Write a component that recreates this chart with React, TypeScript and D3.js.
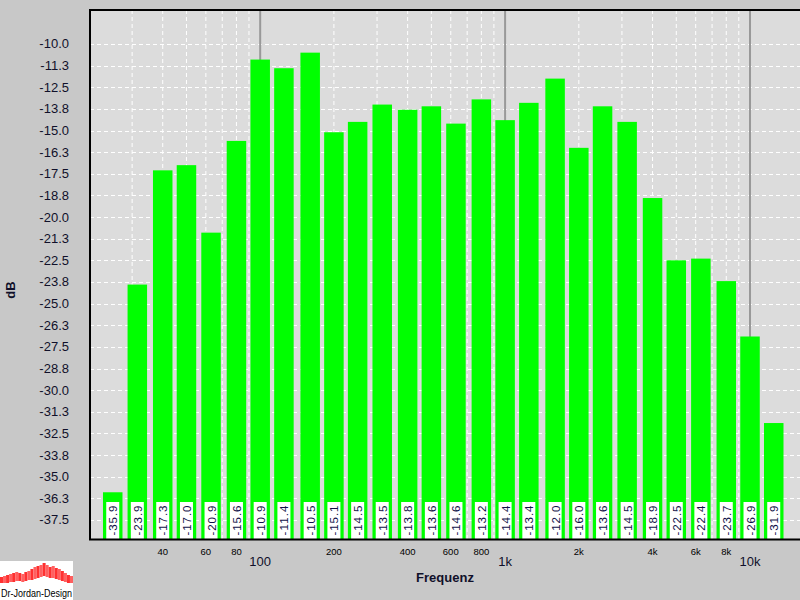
import React from "react";
import * as d3 from "d3";

const freqs = [25, 31.5, 40, 50, 63, 80, 100, 125, 160, 200, 250, 315, 400, 500, 630, 800, 1000, 1250, 1600, 2000, 2500, 3150, 4000, 5000, 6300, 8000, 10000, 12500];
const values = [-35.9, -23.9, -17.3, -17.0, -20.9, -15.6, -10.9, -11.4, -10.5, -15.1, -14.5, -13.5, -13.8, -13.6, -14.6, -13.2, -14.4, -13.4, -12.0, -16.0, -13.6, -14.5, -18.9, -22.5, -22.4, -23.7, -26.9, -31.9];
const yTicks = [-10, -11.25, -12.5, -13.75, -15, -16.25, -17.5, -18.75, -20, -21.25, -22.5, -23.75, -25, -26.25, -27.5, -28.75, -30, -31.25, -32.5, -33.75, -35, -36.25, -37.5];
const majorFreqs = [100, 1000, 10000];
const majorLabels = ["100", "1k", "10k"];
const minorGrid = [30, 40, 50, 60, 70, 80, 90, 200, 300, 400, 500, 600, 700, 800, 900, 2000, 3000, 4000, 5000, 6000, 7000, 8000, 9000];
const minorLabelFreqs = [40, 60, 80, 200, 400, 600, 800, 2000, 4000, 6000, 8000];
const minorLabels = ["40", "60", "80", "200", "400", "600", "800", "2k", "4k", "6k", "8k"];
const logoTop = [17, 16, 15, 14, 13, 12, 13, 14, 12, 11, 9, 7, 6, 5, 3, 5, 7, 6, 8, 9, 11, 13, 15, 16];
const logoBottom = [23, 23, 23, 22, 22, 21, 21, 22, 21, 20, 20, 19, 18, 17, 16, 17, 18, 18, 19, 20, 21, 22, 23, 23];

const FONT = "Arial, 'Liberation Sans', sans-serif";

export default function App() {
  const left = 90, top = 10, right = 800, bottom = 539;
  const x = d3.scaleLog().domain([20, 16000]).range([89, 800]);
  const y = d3.scaleLinear().domain([-38.6, -8.036]).range([bottom, top]);
  const barW = 19.5;
  const logoX = d3.scaleLinear().domain([0, logoTop.length]).range([0, 73]);
  const logoY = d3.scaleLinear().domain([0, 40]).range([560, 600]);

  return (
    <svg width={800} height={600} style={{ position: "absolute", left: 0, top: 0 }} fontFamily={FONT}>
      <rect x={0} y={0} width={800} height={600} fill="#c8c8c8" />
      <rect x={left} y={top} width={right - left} height={bottom - top} fill="#dcdcdc" />
      {minorGrid.map((f) => (
        <line key={"vg" + f} x1={x(f)} x2={x(f)} y1={top} y2={bottom} stroke="#ffffff" strokeWidth={1} strokeDasharray="4,3" />
      ))}
      {yTicks.map((t) => (
        <line key={"hg" + t} x1={left} x2={right} y1={Math.round(y(t)) + 0.5} y2={Math.round(y(t)) + 0.5} stroke="#ffffff" strokeWidth={1} strokeDasharray="4,3" />
      ))}
      {majorFreqs.map((f) => (
        <line key={"mg" + f} x1={x(f)} x2={x(f)} y1={top} y2={bottom} stroke="#999999" strokeWidth={2} />
      ))}
      {values.map((v, i) => (
        <rect key={"b" + i} x={x(freqs[i]) - barW / 2} y={y(v)} width={barW} height={bottom - y(v)} fill="#00ff00" />
      ))}
      {values.map((v, i) => {
        const cx = x(freqs[i]);
        const cy = 520.5;
        return (
          <g key={"l" + i}>
            <rect x={cx - 6.5} y={502} width={13} height={bottom - 502} fill="#ffffff" />
            <text
              transform={`translate(${cx + 0.5},${cy}) rotate(-90)`}
              textAnchor="middle"
              dominantBaseline="central"
              fontSize={11.5}
              fill="#101048"
              textLength={30}
              lengthAdjust="spacing"
            >
              {v.toFixed(1)}
            </text>
          </g>
        );
      })}
      <line x1={left} x2={left} y1={top - 1} y2={bottom + 1} stroke="#000" strokeWidth={2} />
      <line x1={left - 1} x2={right} y1={top} y2={top} stroke="#000" strokeWidth={2} />
      <line x1={left - 1} x2={right} y1={bottom + 0.5} y2={bottom + 0.5} stroke="#000" strokeWidth={2} />
      {yTicks.map((t) => (
        <text key={"yt" + t} x={69} y={y(t)} textAnchor="end" dominantBaseline="central" fontSize={13} fill="#10102a">
          {t.toFixed(1)}
        </text>
      ))}
      {minorLabelFreqs.map((f, i) => (
        <text key={"xm" + f} x={x(f)} y={551} textAnchor="middle" dominantBaseline="central" fontSize={9.5} fill="#000">
          {minorLabels[i]}
        </text>
      ))}
      {majorFreqs.map((f, i) => (
        <text key={"xM" + f} x={x(f)} y={561} textAnchor="middle" dominantBaseline="central" fontSize={13} fill="#10102a">
          {majorLabels[i]}
        </text>
      ))}
      <text x={445} y={582} textAnchor="middle" fontSize={13} fontWeight="bold" fill="#10102a">Frequenz</text>
      <text transform="translate(15,290) rotate(-90)" textAnchor="middle" fontSize={13} fontWeight="bold" fill="#10102a">dB</text>
      <rect x={0} y={561} width={73} height={39} fill="#ffffff" />
      {logoTop.map((t, i) => (
        <rect key={"lg" + i} x={logoX(i)} y={logoY(t)} width={logoX(1) - logoX(0)} height={logoY(logoBottom[i]) - logoY(t)} fill={i % 2 === 0 ? "#ff3030" : "#ff6060"} />
      ))}
      <text x={1} y={597} fontSize={10} fill="#000" textLength={71} lengthAdjust="spacingAndGlyphs">Dr-Jordan-Design</text>
    </svg>
  );
}
